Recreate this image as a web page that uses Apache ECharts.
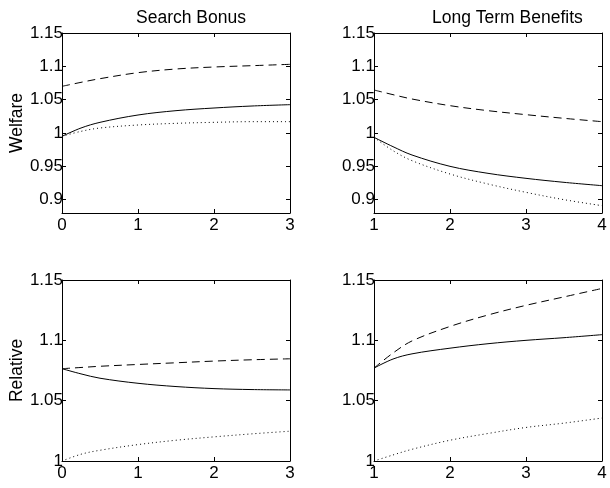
<!DOCTYPE html>
<html>
<head>
<meta charset="utf-8">
<script src="https://cdn.jsdelivr.net/npm/echarts@6/dist/echarts.min.js"></script>
<style>
  html, body { margin: 0; padding: 0; background: #fff; }
  #chart { width: 610px; height: 488px; }
</style>
</head>
<body>
<div id="chart"></div>
<script>
// x values
const xSearch = [0, 0.25, 0.5, 1, 1.5, 2, 2.5, 3]
const xLong = [1, 1.25, 1.5, 2, 2.5, 3, 3.5, 4]

// Welfare, Search Bonus
const welfareSearchSolid = [0.995, 1.0075, 1.016, 1.027, 1.0335, 1.0375, 1.0405, 1.0425]
const welfareSearchDashed = [1.070, 1.076, 1.0815, 1.0905, 1.096, 1.099, 1.101, 1.103]
const welfareSearchDotted = [0.995, 1.0025, 1.0075, 1.012, 1.0145, 1.016, 1.017, 1.017]

// Welfare, Long Term Benefits
const welfareLongSolid = [0.9935, 0.9795, 0.967, 0.950, 0.9395, 0.932, 0.926, 0.921]
const welfareLongDashed = [1.0645, 1.0575, 1.051, 1.041, 1.0335, 1.0275, 1.022, 1.017]
const welfareLongDotted = [0.9935, 0.9735, 0.9585, 0.9385, 0.9235, 0.911, 0.900, 0.891]

// Relative, Search Bonus
const relativeSearchSolid = [1.0765, 1.0722, 1.0686, 1.0644, 1.0617, 1.060, 1.0592, 1.0589]
const relativeSearchDashed = [1.0765, 1.0775, 1.0785, 1.080, 1.0814, 1.0828, 1.0839, 1.0847]
const relativeSearchDotted = [1.000, 1.0056, 1.0089, 1.0136, 1.0172, 1.020, 1.0225, 1.0247]

// Relative, Long Term Benefits
const relativeLongSolid = [1.077, 1.0845, 1.0888, 1.0935, 1.0972, 1.100, 1.1022, 1.1047]
const relativeLongDashed = [1.077, 1.0895, 1.0995, 1.1115, 1.121, 1.129, 1.136, 1.143]
const relativeLongDotted = [1.000, 1.005, 1.0097, 1.0172, 1.0228, 1.0278, 1.0314, 1.0356]

// tick labels
const welfareTicks = [0.9, 0.95, 1, 1.05, 1.1, 1.15]
const relativeTicks = [1, 1.05, 1.1, 1.15]

const FONT = 'Liberation Sans'

function pairs(xs, ys) {
  return xs.map((x, i) => [x, ys[i]])
}

const panels = [
  { grid: { left: 62, top: 33, width: 228, height: 180 }, x: xSearch, xMin: 0, xMax: 3,
    yMin: 0.88, yMax: 1.15, ticks: welfareTicks, name: 'Welfare',
    lines: [welfareSearchSolid, welfareSearchDashed, welfareSearchDotted] },
  { grid: { left: 374, top: 33, width: 228, height: 180 }, x: xLong, xMin: 1, xMax: 4,
    yMin: 0.88, yMax: 1.15, ticks: welfareTicks, name: '',
    lines: [welfareLongSolid, welfareLongDashed, welfareLongDotted] },
  { grid: { left: 62, top: 280, width: 228, height: 181 }, x: xSearch, xMin: 0, xMax: 3,
    yMin: 1, yMax: 1.15, ticks: relativeTicks, name: 'Relative',
    lines: [relativeSearchSolid, relativeSearchDashed, relativeSearchDotted] },
  { grid: { left: 374, top: 280, width: 228, height: 181 }, x: xLong, xMin: 1, xMax: 4,
    yMin: 1, yMax: 1.15, ticks: relativeTicks, name: '',
    lines: [relativeLongSolid, relativeLongDashed, relativeLongDotted] }
]

const lineTypes = ['solid', [8, 5], [1, 3]]
const lineNames = ['solid', 'dashed', 'dotted']

const axisLine = { show: true, onZero: false, lineStyle: { color: '#000', width: 1 } }
const tick = { show: true, inside: true, length: 4, lineStyle: { color: '#000', width: 1 } }
const labelStyle = { color: '#000', fontFamily: FONT, fontSize: 17 }

const grid = [], xAxis = [], yAxis = [], series = []

panels.forEach((p, g) => {
  grid.push(Object.assign({ containLabel: false }, p.grid))
  // bottom + top x axes
  xAxis.push({
    type: 'value', gridIndex: g, position: 'bottom', min: p.xMin, max: p.xMax, interval: 1,
    axisLine: axisLine, axisTick: tick, splitLine: { show: false },
    axisLabel: Object.assign({ margin: 4 }, labelStyle)
  })
  xAxis.push({
    type: 'value', gridIndex: g, position: 'top', min: p.xMin, max: p.xMax, interval: 1,
    axisLine: axisLine, axisTick: tick, splitLine: { show: false }, axisLabel: { show: false }
  })
  // left + right y axes
  yAxis.push({
    type: 'value', gridIndex: g, position: 'left', min: p.yMin, max: p.yMax,
    name: p.name, nameLocation: 'middle', nameGap: 34, nameRotate: 90,
    nameTextStyle: { color: '#000', fontFamily: FONT, fontSize: 17.5 },
    axisLine: axisLine, splitLine: { show: false },
    axisTick: Object.assign({ customValues: p.ticks }, tick),
    axisLabel: Object.assign({
      customValues: p.ticks, margin: -1,
      formatter: v => String(+(+v).toFixed(2))
    }, labelStyle)
  })
  yAxis.push({
    type: 'value', gridIndex: g, position: 'right', min: p.yMin, max: p.yMax,
    axisLine: axisLine, splitLine: { show: false },
    axisTick: Object.assign({ customValues: p.ticks }, tick),
    axisLabel: { show: false }
  })
  p.lines.forEach((ys, k) => {
    series.push({
      type: 'line', name: lineNames[k], xAxisIndex: g * 2, yAxisIndex: g * 2,
      data: pairs(p.x, ys), smooth: 0.35, showSymbol: false, silent: true,
      lineStyle: { color: '#000', width: 1, type: lineTypes[k] }
    })
  })
})

const chart = echarts.init(document.getElementById('chart'), null, { renderer: 'canvas' })
chart.setOption({
  backgroundColor: '#fff',
  animation: false,
  title: [
    { text: 'Search Bonus', left: 131, top: 4,
      textStyle: { color: '#000', fontFamily: FONT, fontSize: 17.5, fontWeight: 'normal' } },
    { text: 'Long Term Benefits', left: 427, top: 4,
      textStyle: { color: '#000', fontFamily: FONT, fontSize: 17.5, fontWeight: 'normal' } }
  ],
  grid: grid,
  xAxis: xAxis,
  yAxis: yAxis,
  series: series
})
</script>
</body>
</html>
